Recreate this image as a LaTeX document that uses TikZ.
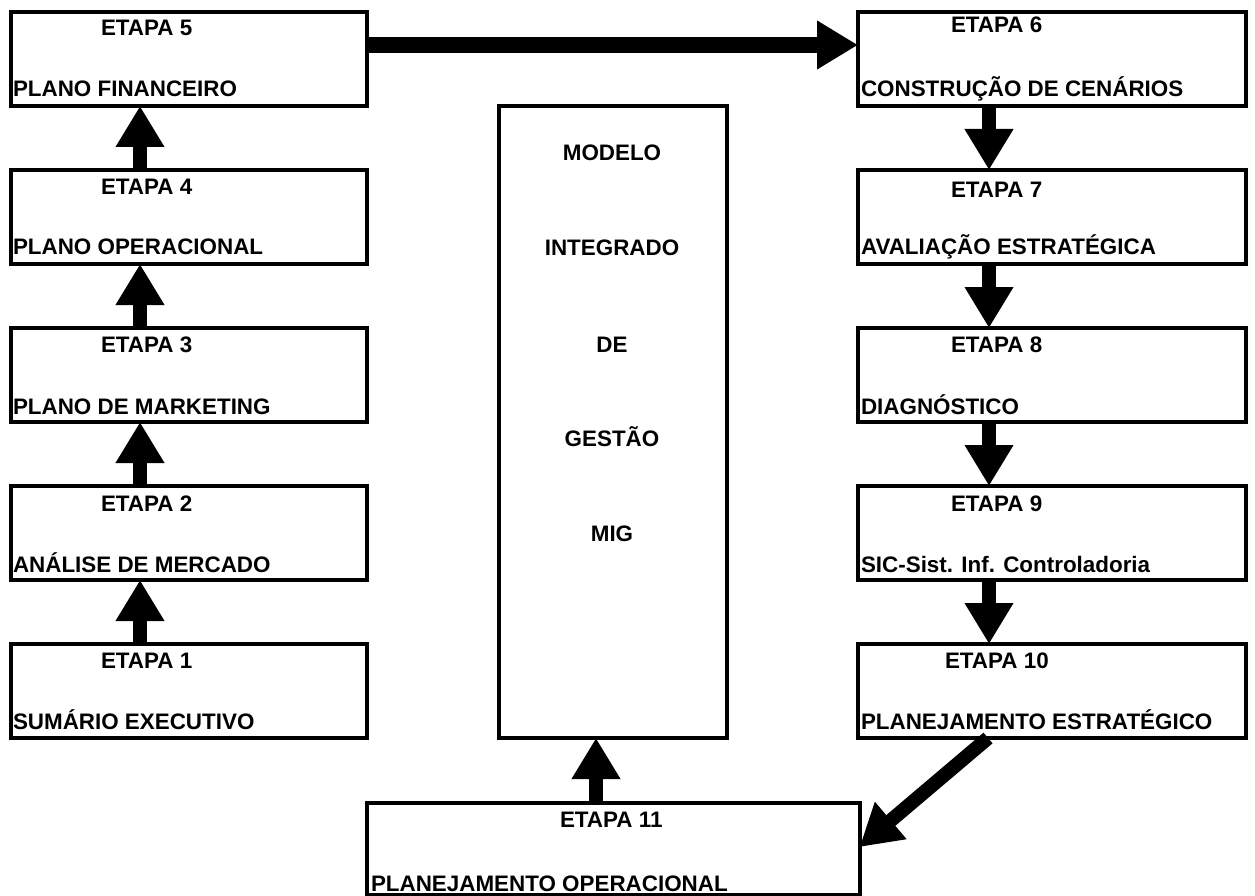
\documentclass[tikz,border=0pt]{standalone}
\usepackage{fontspec}
\setmainfont{Liberation Sans}
\usetikzlibrary{arrows.meta}
\begin{document}
\begin{tikzpicture}[x=1pt,y=-1pt,
  stepbox/.style={draw,line width=4pt,rectangle,inner sep=0pt,outer sep=0pt,anchor=north west,minimum height=94pt},
  lbox/.style={stepbox,minimum width=355.5pt},
  rbox/.style={stepbox,minimum width=388pt},
  txt/.style={anchor=base west,inner sep=0pt,outer sep=0pt,font=\fontsize{22.4}{26}\selectfont\bfseries},
  ctxt/.style={txt,anchor=base},
  bigarrow/.style={line width=14pt,-{Triangle[length=41pt,width=46pt]}}]
\useasboundingbox (0,0) rectangle (1255,896);
% left column
\node[lbox] (e5) at (11,12) {};
\node[lbox] (e4) at (11,170) {};
\node[lbox] (e3) at (11,328) {};
\node[lbox] (e2) at (11,486) {};
\node[lbox] (e1) at (11,644) {};
% right column
\node[rbox] (e6) at (858,12) {};
\node[rbox] (e7) at (858,170) {};
\node[rbox] (e8) at (858,328) {};
\node[rbox] (e9) at (858,486) {};
\node[rbox] (e10) at (858,644) {};
% centre
\node[stepbox,minimum width=228pt,minimum height=632pt] (mig) at (499,106) {};
\node[stepbox,minimum width=492.5pt,minimum height=91.5pt] (e11) at (367,803) {};
% texts left
\node[txt] (t5a) at (101,36) {ETAPA 5};
\node[txt] (t5b) at (13,97) {PLANO FINANCEIRO};
\node[txt] (t4a) at (101,195) {ETAPA 4};
\node[txt] (t4b) at (13,254) {PLANO OPERACIONAL};
\node[txt] (t3a) at (101,352) {ETAPA 3};
\node[txt] (t3b) at (13,414) {PLANO DE MARKETING};
\node[txt] (t2a) at (101,511) {ETAPA 2};
\node[txt] (t2b) at (13,572) {ANÁLISE DE MERCADO};
\node[txt] (t1a) at (101,668) {ETAPA 1};
\node[txt] (t1b) at (13,729) {SUMÁRIO EXECUTIVO};
% texts right
\node[txt] (t6a) at (951,33) {ETAPA 6};
\node[txt] (t6b) at (861,97) {CONSTRUÇÃO DE CENÁRIOS};
\node[txt] (t7a) at (951,197) {ETAPA 7};
\node[txt] (t7b) at (861,254) {AVALIAÇÃO ESTRATÉGICA};
\node[txt] (t8a) at (951,352) {ETAPA 8};
\node[txt] (t8b) at (861,414) {DIAGNÓSTICO};
\node[txt] (t9a) at (951,511) {ETAPA 9};
\node[txt] (t9b) at (861,572) {SIC-Sist. Inf. Controladoria};
\node[txt] (t10a) at (945,668) {ETAPA 10};
\node[txt] (t10b) at (861,729) {PLANEJAMENTO ESTRATÉGICO};
% MIG texts
\node[ctxt] (m1) at (612,161) {MODELO};
\node[ctxt] (m2) at (612,255) {INTEGRADO};
\node[ctxt] (m3) at (612,352) {DE};
\node[ctxt] (m4) at (612,446) {GESTÃO};
\node[ctxt] (m5) at (612,541) {MIG};
% etapa 11
\node[txt] (t11a) at (560,827) {ETAPA 11};
\node[txt] (t11b) at (371,891) {PLANEJAMENTO OPERACIONAL};
% helper coordinates
\coordinate (xl) at (140,0);
\coordinate (xr) at (989,0);
\coordinate (xm) at (596,0);
\coordinate (xd) at (988,0);
\coordinate (yh) at (0,45);
\coordinate (yd) at (0,847);
% arrows
\draw[bigarrow] (e1.north -| xl) -- (e2.south -| xl);
\draw[bigarrow] (e2.north -| xl) -- (e3.south -| xl);
\draw[bigarrow] (e3.north -| xl) -- (e4.south -| xl);
\draw[bigarrow] (e4.north -| xl) -- (e5.south -| xl);
\draw[bigarrow,line width=16.5pt] (e5.east |- yh) -- (e6.west |- yh);
\draw[bigarrow] (e6.south -| xr) -- (e7.north -| xr);
\draw[bigarrow] (e7.south -| xr) -- (e8.north -| xr);
\draw[bigarrow] (e8.south -| xr) -- (e9.north -| xr);
\draw[bigarrow] (e9.south -| xr) -- (e10.north -| xr);
\draw[bigarrow] (e10.south -| xd) -- (e11.east |- yd);
\draw[bigarrow] (e11.north -| xm) -- (mig.south -| xm);
\end{tikzpicture}
\end{document}
